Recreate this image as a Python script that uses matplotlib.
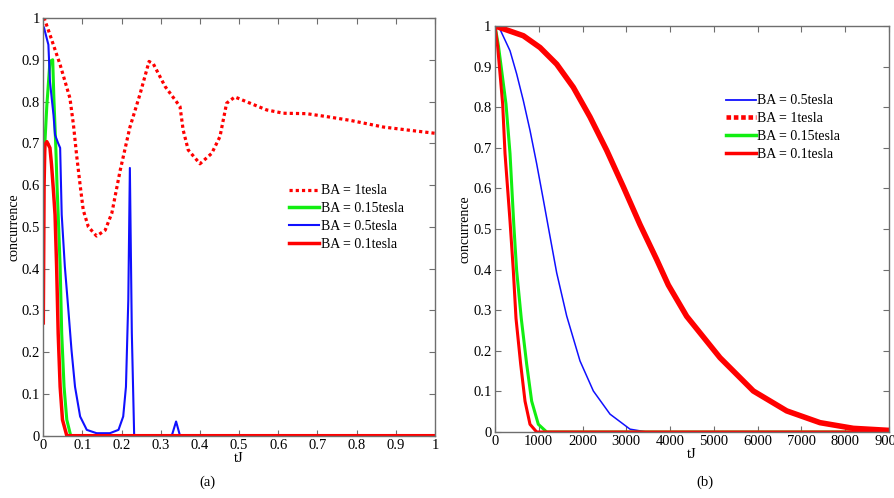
import numpy as np
import matplotlib
matplotlib.use("Agg")
import matplotlib.pyplot as plt
from matplotlib.lines import Line2D
from matplotlib.ticker import FuncFormatter

plt.rcParams['font.family'] = ['Liberation Serif', 'DejaVu Serif']

# ---- panel (a) data: concurrence vs tJ, short times ----
t_a_1T = [0, 0.004, 0.017, 0.043, 0.068, 0.077, 0.085, 0.094, 0.102, 0.115, 0.136, 0.158,
          0.175, 0.196, 0.221, 0.247, 0.270, 0.281, 0.311, 0.349, 0.357, 0.370, 0.40, 0.43,
          0.451, 0.468, 0.489, 0.528, 0.570, 0.613, 0.672, 0.723, 0.783, 0.868, 0.937, 1.0]
c_a_1T = [1.0, 0.995, 0.96, 0.888, 0.808, 0.744, 0.672, 0.60, 0.54, 0.50, 0.478, 0.492,
          0.533, 0.634, 0.738, 0.818, 0.896, 0.89, 0.836, 0.788, 0.732, 0.684, 0.651, 0.676,
          0.716, 0.796, 0.811, 0.796, 0.780, 0.772, 0.771, 0.764, 0.755, 0.739, 0.731, 0.724]

t_a_05T = [0, 0.002, 0.013, 0.017, 0.026, 0.030, 0.038, 0.043, 0.047, 0.055, 0.064, 0.072,
           0.081, 0.094, 0.111, 0.136, 0.170, 0.192, 0.204, 0.211, 0.217, 0.221, 0.226, 0.232,
           0.328, 0.339, 0.349, 1.0]
c_a_05T = [0.98, 0.976, 0.936, 0.848, 0.768, 0.72, 0.70, 0.689, 0.529, 0.405, 0.301, 0.205,
           0.117, 0.046, 0.014, 0.006, 0.006, 0.014, 0.046, 0.117, 0.325, 0.641, 0.246, 0.0,
           0.0, 0.034, 0.0, 0.0]

t_a_015T = [0, 0.004, 0.009, 0.017, 0.024, 0.027, 0.032, 0.035, 0.038, 0.043, 0.047, 0.053,
            0.060, 0.070, 1.0]
c_a_015T = [0.62, 0.70, 0.79, 0.896, 0.90, 0.808, 0.689, 0.60, 0.53, 0.405, 0.245, 0.117,
            0.038, 0.0, 0.0]

t_a_01T = [0, 0.002, 0.004, 0.009, 0.017, 0.021, 0.026, 0.030, 0.034, 0.038, 0.043, 0.049,
           0.060, 1.0]
c_a_01T = [0.27, 0.60, 0.696, 0.704, 0.689, 0.649, 0.585, 0.529, 0.405, 0.245, 0.117, 0.038,
           0.0, 0.0]

# ---- panel (b) data: long times ----
t_b_1T = [0, 114, 648, 1029, 1410, 1790, 2171, 2552, 2933, 3314, 3695, 3962, 4381,
          5143, 5905, 6667, 7429, 8190, 9000]
c_b_1T = [1.0, 0.996, 0.976, 0.947, 0.906, 0.849, 0.776, 0.694, 0.604, 0.511, 0.425, 0.362,
          0.285, 0.183, 0.101, 0.052, 0.023, 0.009, 0.004]

t_b_05T = [0, 114, 343, 495, 648, 800, 952, 1105, 1257, 1410, 1638, 1943, 2248, 2629, 3086,
           3467, 9000]
c_b_05T = [1.0, 0.992, 0.939, 0.882, 0.816, 0.743, 0.661, 0.572, 0.482, 0.392, 0.286, 0.175,
           0.101, 0.044, 0.007, 0.0, 0.0]

t_b_015T = [0, 80, 251, 343, 430, 495, 600, 724, 838, 990, 1181, 9000]
c_b_015T = [1.0, 0.95, 0.808, 0.686, 0.51, 0.397, 0.28, 0.167, 0.076, 0.019, 0.0, 0.0]

t_b_01T = [0, 60, 175, 229, 343, 419, 480, 587, 686, 800, 952, 9000]
c_b_01T = [1.0, 0.95, 0.808, 0.686, 0.52, 0.397, 0.28, 0.167, 0.076, 0.019, 0.0, 0.0]

RED = '#ff0000'
GREEN = '#11ee11'
BLUE = '#1010ff'
SPINE = '#6e6e6e'

fig = plt.figure(figsize=(8.95, 4.98), dpi=100)
W, H = 895.0, 498.0


def px_axes(x0, x1, ytop, ybot):
    return fig.add_axes([x0 / W, 1 - ybot / H, (x1 - x0) / W, (ybot - ytop) / H])


def style(ax):
    for s in ax.spines.values():
        s.set_color(SPINE)
        s.set_linewidth(1.0)
    ax.tick_params(direction='in', length=4, width=0.8, color=SPINE, top=True, right=True,
                   labelsize=10.5, pad=2.5)
    ax.set_ylim(0, 1)
    ax.set_yticks(np.arange(0, 1.01, 0.1))
    ax.yaxis.set_major_formatter(FuncFormatter(lambda v, p: '%g' % round(v, 2)))
    ax.set_ylabel('concurrence', fontsize=10, labelpad=1)
    ax.set_xlabel('tJ', fontsize=10.5, labelpad=0)


# panel (a)
ax1 = px_axes(43.3, 435, 18, 435.7)
ax1.plot(t_a_1T, c_a_1T, color=RED, lw=2.3, linestyle=(0, (1, 0.95)))
ax1.plot(t_a_015T, c_a_015T, color=GREEN, lw=2.2)
ax1.plot(t_a_05T, c_a_05T, color=BLUE, lw=1.5)
ax1.plot(t_a_01T, c_a_01T, color=RED, lw=2.5)
ax1.set_xlim(0, 1)
ax1.set_xticks(np.arange(0, 1.01, 0.1))
ax1.xaxis.set_major_formatter(FuncFormatter(lambda v, p: '%g' % round(v, 2)))
style(ax1)
h1 = [Line2D([], [], color=RED, lw=2.3, linestyle=(0, (1, 0.95))),
      Line2D([], [], color=GREEN, lw=2.5),
      Line2D([], [], color=BLUE, lw=1.5),
      Line2D([], [], color=RED, lw=2.5)]
ax1.legend(h1, ['BA = 1tesla', 'BA = 0.15tesla', 'BA = 0.5tesla', 'BA = 0.1tesla'],
           loc='upper left', bbox_to_anchor=(288.5 / W, 1 - 184.5 / H), bbox_transform=fig.transFigure,
           frameon=False, fontsize=10, borderpad=0, borderaxespad=0, handlelength=2.2,
           handletextpad=0.12, labelspacing=0.345)
fig.text(207 / W, 1 - 482 / H, '(a)', ha='center', va='center', fontsize=10.5)

# panel (b)
ax2 = px_axes(495, 888.75, 26, 432)
ax2.plot(t_b_05T, c_b_05T, color=BLUE, lw=1.1)
ax2.plot(t_b_015T, c_b_015T, color=GREEN, lw=2.2)
ax2.plot(t_b_01T, c_b_01T, color=RED, lw=2.2)
ax2.plot(t_b_1T, c_b_1T, color=RED, lw=4.0, solid_joinstyle='round')
ax2.set_xlim(0, 9000)
ax2.set_xticks(np.arange(0, 9001, 1000))
style(ax2)
h2 = [Line2D([], [], color=BLUE, lw=1.3),
      Line2D([], [], color=RED, lw=3.3, linestyle=(0, (1, 0.6))),
      Line2D([], [], color=GREEN, lw=2.5),
      Line2D([], [], color=RED, lw=2.5)]
ax2.legend(h2, ['BA = 0.5tesla', 'BA = 1tesla', 'BA = 0.15tesla', 'BA = 0.1tesla'],
           loc='upper left', bbox_to_anchor=(726 / W, 1 - 94.5 / H), bbox_transform=fig.transFigure,
           frameon=False, fontsize=10, borderpad=0, borderaxespad=0, handlelength=2.15,
           handletextpad=0.1, labelspacing=0.345)
fig.text(705 / W, 1 - 482 / H, '(b)', ha='center', va='center', fontsize=10.5)

fig.savefig('out.png', dpi=100)
